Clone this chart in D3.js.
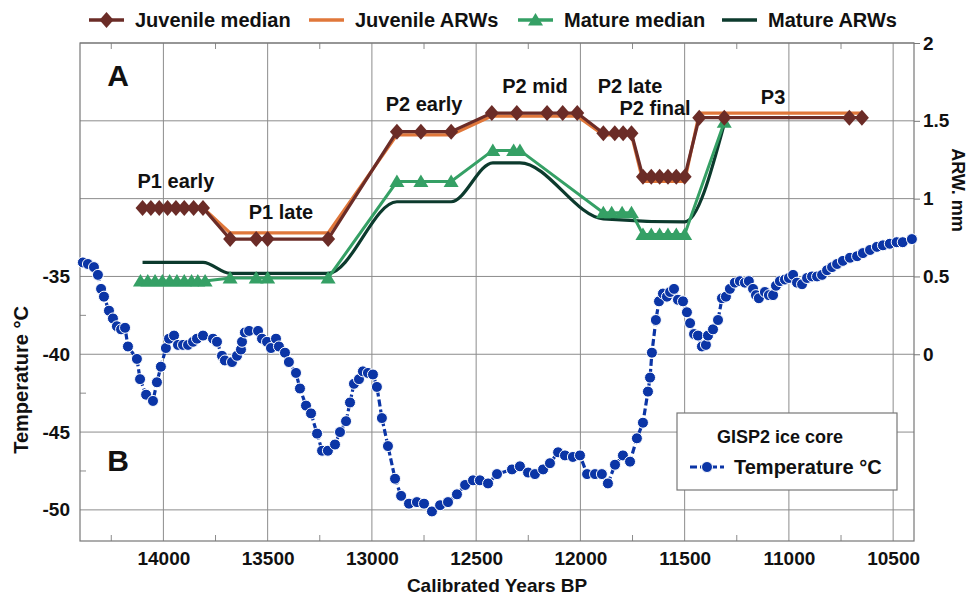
<!DOCTYPE html>
<html>
<head>
<meta charset="utf-8">
<script src="https://cdn.jsdelivr.net/npm/d3@7"></script>
<style>
  body { margin: 0; background: #fff; }
  text { font-family: "Liberation Sans", Arial, sans-serif; font-weight: bold; fill: #111; }
</style>
</head>
<body>
<div id="chart"></div>
<script>

// ARW medians (A) - one entry per sample
var juvYears = [14100,14060,14020,13980,13940,13900,13855,13810, 13680,13555,13500,13210, 12880,12765,12620,
                12425,12305,12160,12085,12015, 11890,11835,11795,11755, 11700,11660,11620,11580,11540,11500,
                11430,11310,10710,10650];
var juvMedian = [0.94,0.94,0.94,0.94,0.94,0.94,0.94,0.94, 0.74,0.74,0.74,0.74, 1.43,1.43,1.43,
                 1.55,1.55,1.55,1.55,1.55, 1.42,1.42,1.42,1.42, 1.14,1.14,1.14,1.14,1.14,1.14,
                 1.52,1.52,1.52,1.52];

var juvArwYears = [14100,13810,13680,13210,12880,12620,12425,12015,11890,11755,11700,11500,11430,10650];
var juvArw = [0.94,0.94,0.78,0.78,1.41,1.41,1.53,1.53,1.41,1.41,1.11,1.11,1.55,1.55];

var matYears = [14110,14075,14040,14005,13970,13935,13900,13865,13835,13800, 13680,13555,13500,13210,
                12880,12765,12620, 12420,12320,12290, 11890,11850,11800,11755,
                11700,11660,11620,11580,11540,11500, 11310];
var matMedian = [0.47,0.47,0.47,0.47,0.47,0.47,0.47,0.47,0.47,0.47, 0.49,0.49,0.49,0.49,
                 1.11,1.11,1.11, 1.31,1.31,1.31, 0.91,0.91,0.91,0.91,
                 0.77,0.77,0.77,0.77,0.77,0.77, 1.49];

var matArwYears = [14100,13810,13680,13210,12880,12620,12420,12290,11890,11500,11310];
var matArw = [0.59,0.59,0.52,0.52,0.98,0.98,1.23,1.23,0.87,0.85,1.48];

// GISP2 temperature (B)
var tempYears = [14386,14362,14333,14314,14299,14285,14261,14242,14223,14203,14184,14170,14127,14112,14083,14050,
  14031,14012,13988,13973,13949,13930,13906,13882,13858,13839,13810,13762,13743,13719,13705,13671,13647,13628,
  13623,13609,13589,13546,13527,13503,13484,13460,13446,13417,13398,13364,13345,13316,13292,13263,13239,13211,
  13177,13153,13124,13105,13086,13062,13043,13019,12995,12976,12952,12923,12889,12860,12822,12784,12750,12712,
  12673,12635,12592,12553,12515,12482,12443,12400,12328,12290,12251,12218,12179,12146,12107,12074,12036,12002,
  11968,11930,11897,11868,11834,11796,11762,11729,11700,11676,11666,11657,11638,11623,11604,11585,11570,11551,
  11532,11508,11489,11474,11455,11436,11417,11398,11388,11364,11340,11321,11302,11283,11259,11235,11211,11192,
  11172,11158,11144,11115,11096,11076,11062,11043,11019,11000,10980,10961,10937,10913,10889,10865,10841,10817,
  10793,10769,10741,10707,10673,10645,10611,10578,10549,10516,10483,10454,10410];
var tempValues = [-34.1,-34.2,-34.4,-34.9,-35.8,-36.3,-37.2,-37.7,-38.2,-38.4,-38.3,-39.5,-40.3,-41.6,-42.6,-43.0,
  -41.8,-40.8,-39.6,-39.0,-38.8,-39.4,-39.4,-39.4,-39.2,-39.0,-38.8,-39.0,-39.2,-40.1,-40.4,-40.5,-40.1,-39.7,
  -39.2,-38.6,-38.5,-38.5,-39.0,-39.2,-39.6,-39.0,-39.5,-39.9,-40.5,-41.2,-42.2,-43.3,-43.8,-45.1,-46.2,-46.2,
  -45.8,-45.0,-44.3,-43.1,-41.9,-41.6,-41.1,-41.2,-41.3,-42.1,-44.1,-45.9,-48.0,-49.1,-49.6,-49.5,-49.6,-50.1,
  -49.7,-49.5,-49.0,-48.4,-48.1,-48.1,-48.3,-47.7,-47.4,-47.2,-47.6,-47.7,-47.4,-47.0,-46.3,-46.5,-46.6,-46.5,
  -47.7,-47.7,-47.7,-48.3,-47.1,-46.5,-46.9,-45.4,-44.4,-42.4,-41.5,-39.9,-37.8,-36.6,-36.1,-36.3,-36.0,-35.8,
  -36.5,-36.6,-37.3,-38.0,-38.7,-38.8,-39.5,-39.4,-38.8,-38.4,-37.8,-36.4,-36.3,-35.8,-35.4,-35.3,-35.4,-35.3,
  -35.8,-36.2,-36.4,-36.0,-36.2,-36.2,-35.6,-35.3,-35.2,-35.1,-34.9,-35.4,-35.5,-35.1,-35.0,-35.0,-34.9,-34.6,
  -34.4,-34.2,-34.0,-33.8,-33.7,-33.5,-33.3,-33.1,-33.0,-32.9,-32.8,-32.8,-32.6];

var yearTicks = [14000,13500,13000,12500,12000,11500,11000,10500];
var yearMinor = [14250,13750,13250,12750,12250,11750,11250,10750];
var arwTicks = [2,1.5,1,0.5,0];
var arwGrid = [2,1.5,1,0.5,0,-0.5,-1];
var tempTicks = [-35,-40,-45,-50];
var tempMinor = [-37.5,-42.5,-47.5];

var phaseNames = ["P1 early","P1 late","P2 early","P2 mid","P2 late","P2 final","P3"];
var phaseYears = [13940,13436,12750,12218,11762,11642,11076];
var phaseArw = [1.07,0.87,1.56,1.68,1.68,1.54,1.61];

var legendNames = ["Juvenile median","Juvenile ARWs","Mature median","Mature ARWs"];

var BROWN = "#6b2c27", ORANGE = "#e0773a", GREEN = "#35a065", DARK = "#0c3a2d", BLUE = "#0b35a6";

var W = 968, H = 597;
var plotL = 80, plotR = 914, plotT = 43, plotB = 541;

var svg = d3.select("#chart").append("svg").attr("width", W).attr("height", H);

var x = d3.scaleLinear().domain([14400, 10400]).range([plotL, plotR]);
var yR = d3.scaleLinear().domain([-1.2, 2]).range([plotB, plotT]);
var yT = d3.scaleLinear().domain([-52, -20]).range([plotB, plotT]);

// grid
svg.append("g").selectAll("line").data(yearTicks).join("line")
    .attr("x1", d => x(d)).attr("x2", d => x(d))
    .attr("y1", plotT).attr("y2", plotB)
    .attr("stroke", "#8c8c8c").attr("stroke-width", 1);
svg.append("g").selectAll("line").data(arwGrid).join("line")
    .attr("x1", plotL).attr("x2", plotR)
    .attr("y1", d => yR(d)).attr("y2", d => yR(d))
    .attr("stroke", "#8c8c8c").attr("stroke-width", 1);

// minor ticks, pointing in
svg.append("g").selectAll("line").data(yearMinor).join("line")
    .attr("x1", d => x(d)).attr("x2", d => x(d))
    .attr("y1", plotB).attr("y2", plotB - 6)
    .attr("stroke", "#8c8c8c");
svg.append("g").selectAll("line").data(yearMinor).join("line")
    .attr("x1", d => x(d)).attr("x2", d => x(d))
    .attr("y1", plotT).attr("y2", plotT + 6)
    .attr("stroke", "#8c8c8c");
svg.append("g").selectAll("line").data(tempMinor).join("line")
    .attr("x1", plotL).attr("x2", plotL + 6)
    .attr("y1", d => yT(d)).attr("y2", d => yT(d))
    .attr("stroke", "#8c8c8c");

svg.append("rect")
    .attr("x", plotL).attr("y", plotT)
    .attr("width", plotR - plotL).attr("height", plotB - plotT)
    .attr("fill", "none").attr("stroke", "#777").attr("stroke-width", 1.2);

// axes
var xAxis = svg.append("g").attr("transform", "translate(0," + plotB + ")")
    .call(d3.axisBottom(x).tickValues(yearTicks).tickFormat(d3.format("d")).tickSize(0).tickPadding(11));
var rAxis = svg.append("g").attr("transform", "translate(" + plotR + ",0)")
    .call(d3.axisRight(yR).tickValues(arwTicks).tickFormat(d => String(d)).tickSize(6).tickPadding(3));
var lAxis = svg.append("g").attr("transform", "translate(" + plotL + ",0)")
    .call(d3.axisLeft(yT).tickValues(tempTicks).tickFormat(d => String(d)).tickSize(0).tickPadding(10));

[xAxis, rAxis, lAxis].forEach(function(g) {
    g.select(".domain").remove();
    g.selectAll(".tick line").attr("stroke", "#777");
    g.selectAll("text").attr("font-size", 19).attr("font-family", null).attr("fill", "#111");
});

svg.append("text").attr("x", (plotL + plotR) / 2).attr("y", 592)
    .attr("text-anchor", "middle").attr("font-size", 19).text("Calibrated Years BP");
svg.append("text").attr("transform", "translate(28,380) rotate(-90)")
    .attr("text-anchor", "middle").attr("font-size", 20).text("Temperature °C");
svg.append("text").attr("transform", "translate(952,190) rotate(90)")
    .attr("text-anchor", "middle").attr("font-size", 18).text("ARW. mm");

// temperature series
var tempData = tempYears.map((d, i) => ({year: d, value: tempValues[i]}));
svg.append("path").datum(tempData)
    .attr("fill", "none").attr("stroke", BLUE).attr("stroke-width", 3.2)
    .attr("stroke-dasharray", "7,3")
    .attr("d", d3.line().x(d => x(d.year)).y(d => yT(d.value)));
svg.append("g").selectAll("circle").data(tempData).join("circle")
    .attr("cx", d => x(d.year)).attr("cy", d => yT(d.value)).attr("r", 5.5)
    .attr("fill", BLUE).attr("stroke", "#fff").attr("stroke-width", 1);

// ARW series
var diamond = "M0,-8L7,0L0,8L-7,0Z";
var triangle = "M0,-7L7.5,5.5L-7.5,5.5Z";

var matArwData = matArwYears.map((d, i) => ({year: d, value: matArw[i]}));
svg.append("path").datum(matArwData)
    .attr("fill", "none").attr("stroke", DARK).attr("stroke-width", 3.2)
    .attr("d", d3.line().curve(d3.curveMonotoneX).x(d => x(d.year)).y(d => yR(d.value)));

var matData = matYears.map((d, i) => ({year: d, value: matMedian[i]}));
svg.append("path").datum(matData)
    .attr("fill", "none").attr("stroke", GREEN).attr("stroke-width", 3)
    .attr("d", d3.line().x(d => x(d.year)).y(d => yR(d.value)));
svg.append("g").selectAll("path").data(matData).join("path")
    .attr("transform", d => "translate(" + x(d.year) + "," + yR(d.value) + ")")
    .attr("d", triangle).attr("fill", GREEN);

var juvArwData = juvArwYears.map((d, i) => ({year: d, value: juvArw[i]}));
svg.append("path").datum(juvArwData)
    .attr("fill", "none").attr("stroke", ORANGE).attr("stroke-width", 3.2)
    .attr("d", d3.line().x(d => x(d.year)).y(d => yR(d.value)));

var juvData = juvYears.map((d, i) => ({year: d, value: juvMedian[i]}));
svg.append("path").datum(juvData)
    .attr("fill", "none").attr("stroke", BROWN).attr("stroke-width", 3.2)
    .attr("d", d3.line().x(d => x(d.year)).y(d => yR(d.value)));
svg.append("g").selectAll("path").data(juvData).join("path")
    .attr("transform", d => "translate(" + x(d.year) + "," + yR(d.value) + ")")
    .attr("d", diamond).attr("fill", BROWN);

// phase labels
svg.append("g").selectAll("text").data(phaseNames).join("text")
    .attr("x", (d, i) => x(phaseYears[i])).attr("y", (d, i) => yR(phaseArw[i]))
    .attr("text-anchor", "middle").attr("font-size", 20).text(d => d);

svg.append("text").attr("x", 118).attr("y", 86).attr("text-anchor", "middle")
    .attr("font-size", 30).text("A");
svg.append("text").attr("x", 118).attr("y", 471).attr("text-anchor", "middle")
    .attr("font-size", 30).text("B");

// top legend
var legend = svg.append("g");
var lx = [89, 309, 518, 722];
var lcol = [BROWN, ORANGE, GREEN, DARK];
legendNames.forEach(function(name, i) {
    legend.append("line").attr("x1", lx[i]).attr("x2", lx[i] + 35)
        .attr("y1", 20).attr("y2", 20).attr("stroke", lcol[i]).attr("stroke-width", 3.5);
    if (i == 0) legend.append("path").attr("transform", "translate(" + (lx[i] + 17.5) + ",20)").attr("d", diamond).attr("fill", BROWN);
    if (i == 2) legend.append("path").attr("transform", "translate(" + (lx[i] + 17.5) + ",20)").attr("d", triangle).attr("fill", GREEN);
    legend.append("text").attr("x", lx[i] + 46).attr("y", 27).attr("font-size", 20).text(name);
});

// GISP2 legend box
var box = svg.append("g");
box.append("rect").attr("x", 677).attr("y", 413).attr("width", 220).attr("height", 77)
    .attr("fill", "#fff").attr("stroke", "#777").attr("stroke-width", 1.2);
box.append("text").attr("x", 780).attr("y", 443).attr("text-anchor", "middle")
    .attr("font-size", 18).text("GISP2 ice core");
box.append("line").attr("x1", 690).attr("x2", 724).attr("y1", 467).attr("y2", 467)
    .attr("stroke", BLUE).attr("stroke-width", 3.2).attr("stroke-dasharray", "7,3");
box.append("circle").attr("cx", 707).attr("cy", 467).attr("r", 5.5)
    .attr("fill", BLUE).attr("stroke", "#fff");
box.append("text").attr("x", 734).attr("y", 474).attr("font-size", 20).text("Temperature °C");

</script>
</body>
</html>
